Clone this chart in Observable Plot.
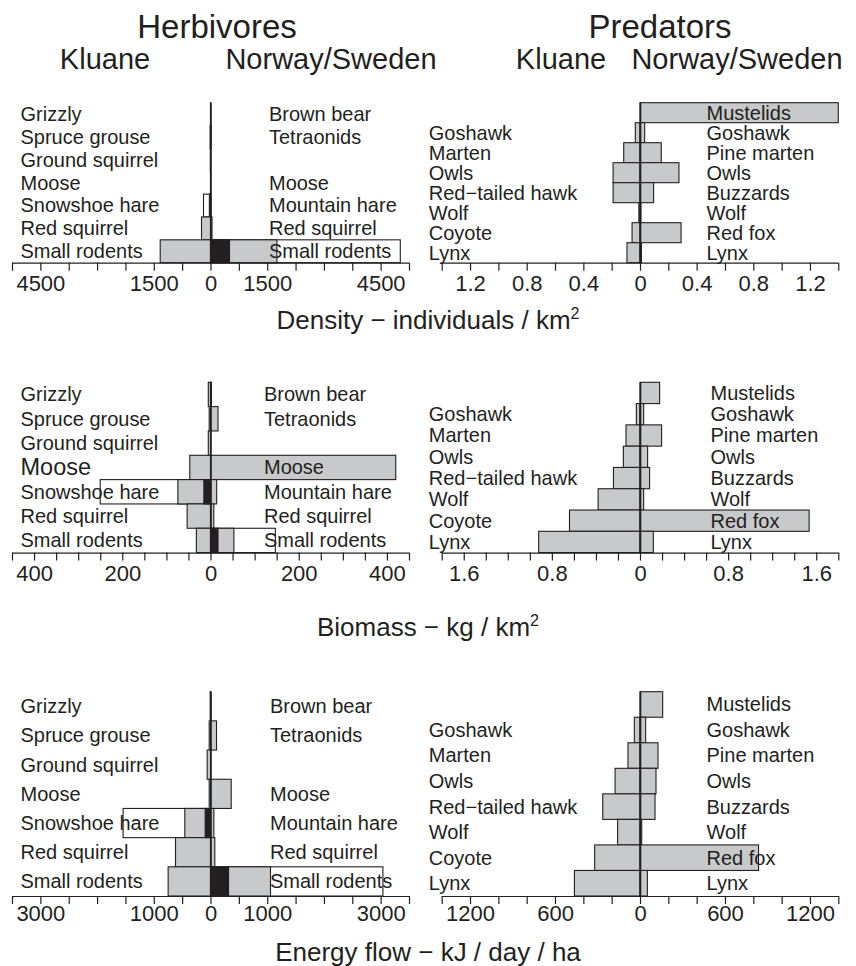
<!DOCTYPE html>
<html><head><meta charset="utf-8">
<script src="https://cdn.jsdelivr.net/npm/d3@7"></script>
<script src="https://cdn.jsdelivr.net/npm/@observablehq/plot@0.6"></script>
<style>
body{margin:0;background:#fff;}
#root{position:relative;width:856px;height:966px;overflow:hidden;font-family:"Liberation Sans",Arial,Helvetica,sans-serif;color:#231f20;}
.t{position:absolute;white-space:nowrap;line-height:1;transform:translateX(-50%);}
.panel{position:absolute;}
sup{font-size:0.62em;vertical-align:0;position:relative;top:-0.62em;}
</style></head><body><div id="root"></div>
<script>
// ---------- categories ----------
const herbKluane = ["Grizzly","Spruce grouse","Ground squirrel","Moose","Snowshoe hare","Red squirrel","Small rodents"];
const herbNorway = ["Brown bear","Tetraonids","","Moose","Mountain hare","Red squirrel","Small rodents"];
const predKluane = ["","Goshawk","Marten","Owls","Red−tailed hawk","Wolf","Coyote","Lynx"];
const predNorway = ["Mustelids","Goshawk","Pine marten","Owls","Buzzards","Wolf","Red fox","Lynx"];

// ---------- Density (individuals / km2) ----------
const densHerbKluane      = [0.01, 10, 5, 0.2, 30, 238, 1330];
const densHerbKluaneOpen  = [null, null, null, null, 185, null, null];
const densHerbKluaneDark  = [null, null, null, null, 8, null, null];
const densHerbNorway      = [0.02, 15, null, 0.5, 10, 40, 1757];
const densHerbNorwayOpen  = [null, null, null, null, null, null, 5020];
const densHerbNorwayDark  = [null, null, null, null, null, null, 503];
const densPredKluane      = [null, 0.033, 0.115, 0.19, 0.19, 0.008, 0.056, 0.092];
const densPredNorway      = [1.40, 0.033, 0.15, 0.275, 0.096, 0.006, 0.29, 0.01];

// ---------- Biomass (kg / km2) ----------
const bioHerbKluane       = [5, 3, 5, 47, 74, 53, 32];
const bioHerbKluaneOpen   = [null, null, null, null, 250, null, null];
const bioHerbKluaneDark   = [null, null, null, null, 15, null, null];
const bioHerbNorway       = [2, 17, null, 420, 14, 7.5, 53];
const bioHerbNorwayOpen   = [null, null, null, null, null, null, 147];
const bioHerbNorwayDark   = [null, null, null, null, null, null, 17];
const bioPredKluane       = [null, 0.033, 0.127, 0.151, 0.241, 0.38, 0.64, 0.92];
const bioPredNorway       = [0.178, 0.033, 0.196, 0.069, 0.087, 0.033, 1.535, 0.121];

// ---------- Energy flow (kJ / day / ha) ----------
const enHerbKluane        = [5, 23, 59, 23, 453, 617, 747];
const enHerbKluaneOpen    = [null, null, null, null, 1541, null, null];
const enHerbKluaneDark    = [null, null, null, null, 94, null, null];
const enHerbNorway        = [5, 106, null, 365, 59, 76, 1058];
const enHerbNorwayOpen    = [null, null, null, null, null, null, 3040];
const enHerbNorwayDark    = [null, null, null, null, null, null, 318];
const enPredKluane        = [null, 40, 85, 176, 263, 158, 320, 463];
const enPredNorway        = [160, 40, 127, 113, 106, 12, 837, 52];

// ---------- axis tick labels ----------
const densHerbTicks = [-4500, -1500, 0, 1500, 4500];
const densPredTicks = [-1.2, -0.8, -0.4, 0, 0.4, 0.8, 1.2];
const bioHerbTicks  = [-400, -200, 0, 200, 400];
const bioPredTicks  = [-1.6, -0.8, 0, 0.8, 1.6];
const enHerbTicks   = [-3000, -1000, 0, 1000, 3000];
const enPredTicks   = [-1200, -600, 0, 600, 1200];

// ---------- drawing ----------
const root = document.getElementById("root");
const INK = "#231f20";
const FILLS = {open: "#ffffff", grey: "#c8c9cb", dark: INK};

function addText(html, cx, top, size) {
  const d = document.createElement("div");
  d.className = "t";
  d.style.left = cx + "px";
  d.style.top = top + "px";
  d.style.fontSize = size + "px";
  d.innerHTML = html;
  root.appendChild(d);
}

function panel(c) {
  const n = c.kl.length;
  const bars = [];
  const push = (arr, sign, layer) => (arr || []).forEach((v, i) => { if (v != null) bars.push({i, v: sign * v, layer}); });
  push(c.klOpen, -1, "open"); push(c.noOpen, 1, "open");
  push(c.klGrey, -1, "grey"); push(c.noGrey, 1, "grey");
  push(c.klDark, -1, "dark"); push(c.noDark, 1, "dark");
  const nT = Math.round(c.D / c.step);
  const minor = d3.range(-nT, nT + 1).map(k => +(k * c.step).toFixed(6));
  const klLab = c.kl.map((t, i) => ({t, i})).filter(d => d.t);
  const noLab = c.no.map((t, i) => ({t, i})).filter(d => d.t);
  const big = c.klBig || {};
  const svg = Plot.plot({
    width: 428,
    height: c.mt + c.area + c.mb,
    marginLeft: c.ml, marginRight: c.mr, marginTop: c.mt, marginBottom: c.mb,
    x: {domain: [-c.D, c.D], label: null},
    y: {domain: [n, 0], axis: null, label: null},
    style: {fontFamily: '"Liberation Sans", Arial, Helvetica, sans-serif', color: INK, background: "transparent", overflow: "visible"},
    marks: [
      ...["open", "grey", "dark"].map(layer =>
        Plot.rect(bars.filter(d => d.layer === layer), {
          x1: 0, x2: "v", y1: "i", y2: d => d.i + 1,
          fill: FILLS[layer], stroke: INK, strokeWidth: 1.1
        })),
      Plot.ruleX([0], {y1: 0, y2: n, stroke: INK, strokeWidth: 1.6}),
      Plot.ruleY([n], {stroke: INK, strokeWidth: 1.2}),
      Plot.axisX(minor, {tickSize: 8, tickFormat: () => "", label: null, strokeWidth: 1.2}),
      Plot.axisX(c.labels, {tickSize: 0, tickPadding: c.pad, tickFormat: d => String(Math.abs(d)), fontSize: 22, label: null}),
      Plot.text(klLab, {x: -c.D, y: d => d.i + 0.5, text: "t", textAnchor: "start", dx: c.klDx, fill: INK,
        fontSize: d => big[d.t] || 20}),
      Plot.text(noLab, {x: 0, y: d => d.i + 0.5, text: "t", textAnchor: "start", dx: c.noDx, fill: INK, fontSize: 20})
    ]
  });
  svg.classList.add("panel");
  svg.style.left = c.left + "px";
  svg.style.top = c.top + "px";
  root.appendChild(svg);
}

const H = {kl: herbKluane, no: herbNorway, left: 0, ml: 12, mr: 19, klDx: 8};
const P = {kl: predKluane, no: predNorway, left: 428, ml: 13.7, mr: 17.7, klDx: -13.4};

// Row 1: density
panel({...H, top: 90, mt: 12.7, area: 160, mb: 45, D: 5250, step: 750, labels: densHerbTicks, pad: 12.5, noDx: 58,
  klGrey: densHerbKluane, klOpen: densHerbKluaneOpen, klDark: densHerbKluaneDark,
  noGrey: densHerbNorway, noOpen: densHerbNorwayOpen, noDark: densHerbNorwayDark});
panel({...P, top: 90, mt: 12.7, area: 160, mb: 45, D: 1.4, step: 0.2, labels: densPredTicks, pad: 12.5, noDx: 66,
  klGrey: densPredKluane, noGrey: densPredNorway});

// Row 2: biomass
panel({...H, top: 370, mt: 12.3, area: 170.3, mb: 45, D: 450, step: 50, labels: bioHerbTicks, pad: 12, noDx: 53,
  klGrey: bioHerbKluane, klOpen: bioHerbKluaneOpen, klDark: bioHerbKluaneDark,
  noGrey: bioHerbNorway, noOpen: bioHerbNorwayOpen, noDark: bioHerbNorwayDark, klBig: {"Moose": 23.5}});
panel({...P, top: 370, mt: 12.3, area: 170.3, mb: 45, D: 1.8, step: 0.2, labels: bioPredTicks, pad: 12, noDx: 70,
  klGrey: bioPredKluane, noGrey: bioPredNorway});

// Row 3: energy flow
panel({...H, top: 680, mt: 11.7, area: 204.3, mb: 40, D: 3500, step: 500, labels: enHerbTicks, pad: 9, noDx: 59,
  klGrey: enHerbKluane, klOpen: enHerbKluaneOpen, klDark: enHerbKluaneDark,
  noGrey: enHerbNorway, noOpen: enHerbNorwayOpen, noDark: enHerbNorwayDark});
panel({...P, top: 680, mt: 11.7, area: 204.3, mb: 40, D: 1400, step: 200, labels: enPredTicks, pad: 9, noDx: 66,
  klGrey: enPredKluane, noGrey: enPredNorway});

// headers and axis titles
addText("Herbivores", 217, 10, 33);
addText("Predators", 660, 10, 33);
addText("Kluane", 105, 44.6, 29);
addText("Norway/Sweden", 331, 44.6, 29);
addText("Kluane", 561, 44.6, 29);
addText("Norway/Sweden", 737, 44.6, 29);
addText("Density − individuals / km<sup>2</sup>", 428, 307, 26);
addText("Biomass − kg / km<sup>2</sup>", 428, 614, 26);
addText("Energy flow − kJ / day / ha", 428, 939, 26);
</script>
</body></html>
